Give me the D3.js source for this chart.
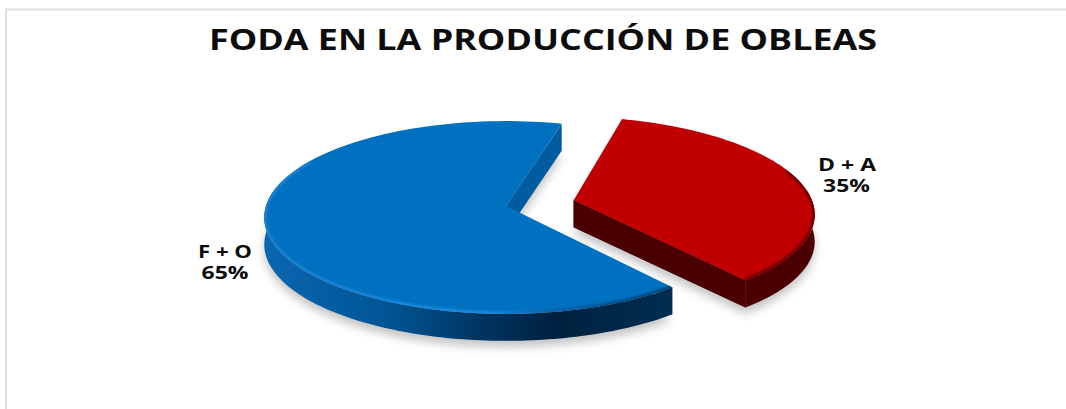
<!DOCTYPE html>
<html>
<head>
<meta charset="utf-8">
<script src="https://cdn.jsdelivr.net/npm/d3@7"></script>
<style>
  html, body { margin: 0; padding: 0; background: #fff; overflow: hidden; }
  text { font-family: "Open Sans", sans-serif; font-weight: 700; fill: #0d0d0d; }
</style>
</head>
<body>
<svg id="canvas"></svg>
<script>
const titleText = "FODA EN LA PRODUCCIÓN DE OBLEAS";
const categories = ["D + A", "F + O"];
const values = [35, 65];
const percents = ["35%", "65%"];

const width = 1066;
const height = 409;

// pie centre, radii and perspective of the tilted disc
const apexX = 506;
const apexY = 206;
const radiusX = 240;
const radiusY = 95;
const tilt = 0.119;
const depth = 27;
const explode = [0.29, 0];
const firstAngle = (15 * Math.PI) / 180;

const canvas = d3.select("#canvas").attr("width", width).attr("height", height);
const defs = canvas.append("defs");

const blurFilter = (id, amount) =>
  defs
    .append("filter")
    .attr("id", id)
    .attr("x", "-20%")
    .attr("y", "-20%")
    .attr("width", "140%")
    .attr("height", "140%")
    .append("feGaussianBlur")
    .attr("stdDeviation", amount);
blurFilter("soft", 5);
blurFilter("rim", 1.2);

const addGradient = (id, x1, x2, stops) => {
  const g = defs
    .append("linearGradient")
    .attr("id", id)
    .attr("gradientUnits", "userSpaceOnUse")
    .attr("x1", x1)
    .attr("x2", x2)
    .attr("y1", 0)
    .attr("y2", 0);
  stops.forEach((s) => g.append("stop").attr("offset", s[0]).attr("stop-color", s[1]));
};
addGradient("blueWall", 264, 668, [
  [0, "#0a66b2"],
  [0.3, "#005696"],
  [0.55, "#00335e"],
  [0.72, "#00213f"],
  [1, "#002d50"],
]);
addGradient("blueRim", 264, 668, [
  [0, "#1a80d0"],
  [0.55, "#1f8be0"],
  [0.75, "#0a5a9c"],
  [1, "#00406f"],
]);

const pie = d3
  .pie()
  .sort(null)
  .startAngle(firstAngle)
  .endAngle(firstAngle + 2 * Math.PI);
const slices = pie(values);

// scales of the perspective plane
const xScale = d3.scaleLinear().domain([0, 1]).range([apexX, apexX + radiusX]);
const yScale = d3.scaleLinear().domain([0, 1]).range([apexY, apexY + radiusY]);

const project = (u, v, drop = 0) => {
  const w = 1 - tilt * v;
  return [xScale(u / w), yScale(v / w) + drop];
};

const offsetOf = (i) => {
  const mid = (slices[i].startAngle + slices[i].endAngle) / 2;
  return [explode[i] * Math.sin(mid), -explode[i] * Math.cos(mid)];
};

const rimPoint = (i, a, drop = 0) => {
  const o = offsetOf(i);
  return project(o[0] + Math.sin(a), o[1] - Math.cos(a), drop);
};

const apexPoint = (i, drop = 0) => {
  const o = offsetOf(i);
  return project(o[0], o[1], drop);
};

const arcPoints = (i, a0, a1, drop = 0) => {
  const n = 120;
  return d3.range(n + 1).map((k) => rimPoint(i, a0 + ((a1 - a0) * k) / n, drop));
};

const line = d3.line();
const closed = (pts) => line(pts) + "Z";
const deg = (d) => (d * Math.PI) / 180;

const facePath = (i) =>
  closed([apexPoint(i)].concat(arcPoints(i, slices[i].startAngle, slices[i].endAngle)));

const wallPath = (i, a0, a1) =>
  closed(arcPoints(i, a0, a1).concat(arcPoints(i, a0, a1, depth).reverse()));

// frame of the chart area
canvas
  .append("path")
  .attr("d", d3.line()([[6, height], [6, 9.5], [width, 9.5]]))
  .attr("fill", "none")
  .attr("stroke", "#e0e0e0")
  .attr("stroke-width", 2);

// soft shadow below the pie
const shadow = canvas.append("g").attr("filter", "url(#soft)").attr("opacity", 0.35);
slices.forEach((s, i) => {
  shadow
    .append("path")
    .attr("d", facePath(i))
    .attr("transform", `translate(0, ${depth + 6})`)
    .attr("fill", "#555");
});

const drawSlice = (i, opts) => {
  const s = slices[i];
  const g = canvas.append("g");
  // wall along the cut edge
  g.append("path")
    .attr("d", closed([apexPoint(i), rimPoint(i, opts.cut), rimPoint(i, opts.cut, depth), apexPoint(i, depth)]))
    .attr("fill", opts.cutFill);
  // outer wall
  g.append("path")
    .attr("d", wallPath(i, opts.wall[0], opts.wall[1]))
    .attr("fill", opts.wallFill);
  g.append("path").attr("d", facePath(i)).attr("fill", opts.face);
  // bevel on the front rim
  const clipId = "clip" + i;
  defs.append("clipPath").attr("id", clipId).append("path").attr("d", facePath(i));
  g.append("g")
    .attr("clip-path", `url(#${clipId})`)
    .append("path")
    .attr("d", line(arcPoints(i, opts.rim[0], opts.rim[1])))
    .attr("fill", "none")
    .attr("stroke", opts.rimStroke)
    .attr("stroke-width", 5)
    .attr("filter", "url(#rim)");
};

// blue first, the exploded red slice sits on top
drawSlice(1, {
  cut: slices[1].endAngle,
  cutFill: "#005b9f",
  wall: [slices[1].startAngle, deg(285)],
  wallFill: "url(#blueWall)",
  face: "#0070c0",
  rim: [slices[1].startAngle, deg(300)],
  rimStroke: "url(#blueRim)",
});
drawSlice(0, {
  cut: slices[0].endAngle,
  cutFill: "#4a0000",
  wall: [deg(85), slices[0].endAngle],
  wallFill: "#4a0000",
  face: "#c00000",
  rim: [deg(70), slices[0].endAngle],
  rimStroke: "#6a0000",
});
// front cut wall of the red slice goes over its own wall
canvas
  .append("path")
  .attr("d", closed([apexPoint(0), rimPoint(0, slices[0].endAngle), rimPoint(0, slices[0].endAngle, depth), apexPoint(0, depth)]))
  .attr("fill", "#4a0000");

const label = (txt, x, y, size, len) =>
  canvas
    .append("text")
    .attr("x", x)
    .attr("y", y)
    .attr("text-anchor", "middle")
    .attr("font-size", size)
    .attr("textLength", len)
    .attr("lengthAdjust", "spacingAndGlyphs")
    .text(txt);

label(titleText, 543, 50, 28, 668);
label(categories[0], 847, 171, 18, 58);
label(percents[0], 846.5, 192, 18, 47);
label(categories[1], 225, 258, 18, 54);
label(percents[1], 225, 279, 18, 47);
</script>
</body>
</html>
